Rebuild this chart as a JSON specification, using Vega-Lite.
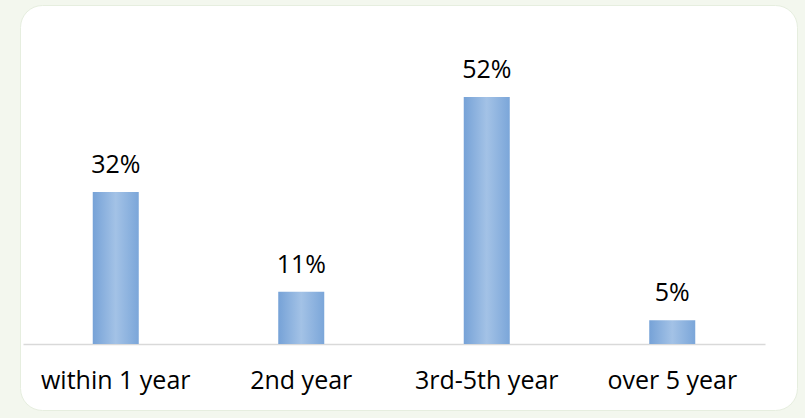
{
  "$schema": "https://vega.github.io/schema/vega-lite/v6.json",
  "width": 805,
  "height": 418,
  "autosize": {"type": "fit", "contains": "padding"},
  "padding": {"left": 20, "top": 5, "right": 8, "bottom": 8},
  "background": "#f3f7ee",
  "config": {
    "view": {"fill": "#ffffff", "stroke": "#e6eedf", "strokeWidth": 1, "cornerRadius": 22},
    "font": "Open Sans"
  },
  "data": {
    "values": [
      {"period": "within 1 year", "share": 32, "label": "32%"},
      {"period": "2nd year", "share": 11, "label": "11%"},
      {"period": "3rd-5th year", "share": 52, "label": "52%"},
      {"period": "over 5 year", "share": 5, "label": "5%"}
    ]
  },
  "encoding": {
    "x": {
      "field": "period",
      "type": "nominal",
      "sort": null,
      "scale": {"range": [3, 745], "paddingInner": 0.752, "paddingOuter": 0.376},
      "axis": {
        "title": null,
        "orient": "bottom",
        "offset": -66,
        "labelAngle": 0,
        "labelFontSize": 25,
        "labelColor": "#000000",
        "labelBaseline": "alphabetic",
        "labelPadding": 44,
        "labelFont": "Open Sans",
        "ticks": false,
        "domainColor": "#d9d9d9",
        "domainWidth": 1.5,
        "grid": false
      }
    },
    "y": {
      "field": "share",
      "type": "quantitative",
      "scale": {"domain": [-13.9, 71.37], "nice": false},
      "axis": null
    }
  },
  "layer": [
    {
      "mark": {
        "type": "bar",
        "color": {
          "gradient": "linear",
          "x1": 0, "y1": 0, "x2": 1, "y2": 0,
          "stops": [
            {"offset": 0, "color": "#76a2d7"},
            {"offset": 0.5, "color": "#a3c2e6"},
            {"offset": 1, "color": "#7ba6d9"}
          ]
        }
      }
    },
    {
      "mark": {"type": "text", "baseline": "alphabetic", "dy": -19, "fontSize": 25, "color": "#000000", "font": "Open Sans"},
      "encoding": {"text": {"field": "label"}}
    }
  ]
}
